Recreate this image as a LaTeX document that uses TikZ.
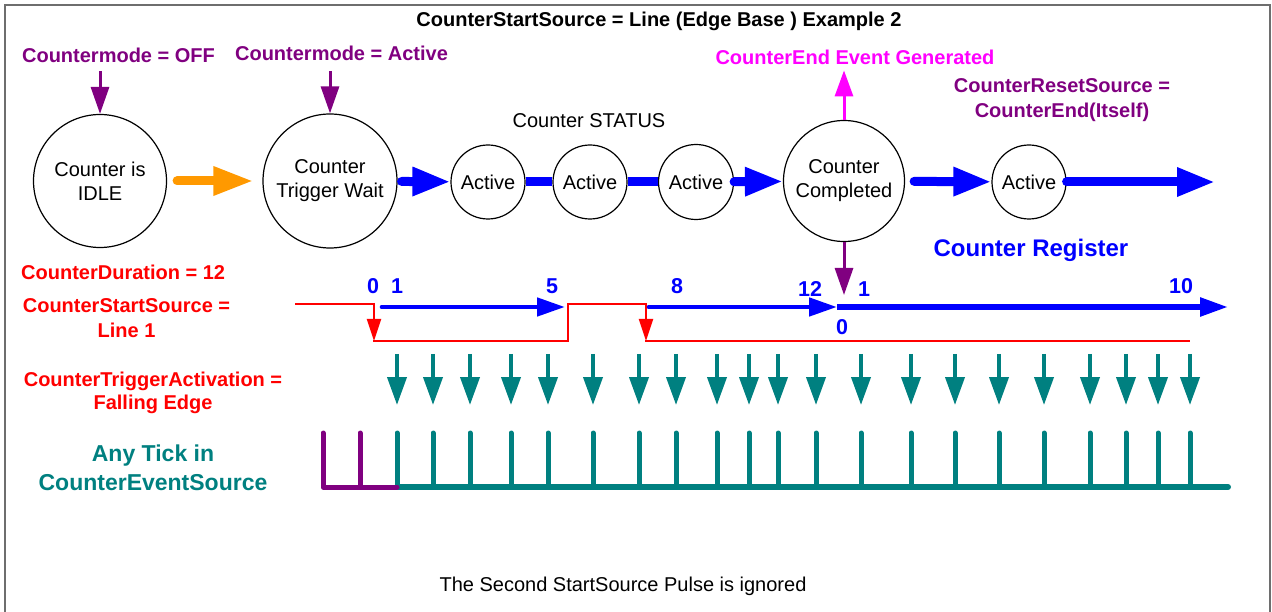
\documentclass[tikz,border=0pt]{standalone}
\usepackage{fontspec}
\setmainfont{Liberation Sans}
\usetikzlibrary{arrows.meta,calc}
\definecolor{cpurple}{RGB}{128,0,128}
\definecolor{corange}{RGB}{255,153,0}
\definecolor{cblue}{RGB}{0,0,255}
\definecolor{cmag}{RGB}{255,0,255}
\definecolor{cred}{RGB}{255,0,0}
\definecolor{cteal}{RGB}{0,128,128}
\definecolor{cframe}{RGB}{110,110,110}
\begin{document}
\begin{tikzpicture}[x=1pt,y=-1pt,
  bld/.style={font=\fontsize{20}{25}\selectfont\bfseries, inner sep=0pt},
  rgl/.style={font=\fontsize{20}{24}\selectfont, inner sep=0pt},
  state/.style={circle, draw=black, line width=1.2pt, inner sep=1pt, align=center,
                font=\fontsize{20}{24}\selectfont},
  flowarrow/.style={draw=cblue, line width=9pt, line cap=round, -{Triangle[length=38pt,width=27pt]}},
  flowline/.style={draw=cblue, line width=9pt},
  orangearrow/.style={draw=corange, line width=9pt, line cap=round, -{Triangle[length=40pt,width=27pt]}},
  purparrow/.style={draw=cpurple, line width=3pt, -{Triangle[length=27pt,width=18pt]}},
  magarrow/.style={draw=cmag, line width=3pt, -{Triangle[length=26pt,width=18pt]}},
  regarrow/.style={draw=cblue, line width=4.7pt, line cap=round, -{Triangle[length=28pt,width=18pt]}},
  redline/.style={draw=cred, line width=2pt},
  redarrow/.style={draw=cred, line width=2pt, -{Triangle[length=22pt,width=14pt]}},
  tealarrow/.style={draw=cteal, line width=4pt, -{Triangle[length=28pt,width=19pt]}},
  tickline/.style={draw=cteal, line width=5pt, line cap=round},
  num/.style={font=\fontsize{21.5}{25}\selectfont\bfseries, text=cblue, inner sep=0pt, anchor=base}
]
\useasboundingbox (0,0) rectangle (1272,612);
% frame
\draw[cframe, line width=1.5pt] (5,650) -- (5,5) -- (1270,5) -- (1270,650);

% title
\node[bld, anchor=base] (title) at (659,27) {CounterStartSource = Line (Edge Base ) Example 2};

% top labels
\node[bld, text=cpurple, anchor=base] (off) at (118.5,63) {Countermode = OFF};
\node[bld, text=cpurple, anchor=base] (act) at (341.5,61) {Countermode = Active};
\node[bld, text=cmag, anchor=base] (endev) at (855,65) {CounterEnd Event Generated};
\node[rgl, anchor=base] (status) at (589,128) {Counter STATUS};
\node[bld, text=cpurple, align=center] (reset) at (1062,100) {CounterResetSource =\\CounterEnd(Itself)};
\node[font=\fontsize{24}{28}\selectfont\bfseries, text=cblue, inner sep=0pt, anchor=base] (register) at (1031,256.5) {Counter Register};

% state circles
\node[state, minimum size=133pt] (idle) at (100,181) {Counter is\\IDLE};
\node[state, minimum size=134pt] (wait) at (330,181) {Counter\\Trigger Wait};
\node[state, minimum size=74pt] (a1) at (488,182) {Active};
\node[state, minimum size=74pt] (a2) at (590,182) {Active};
\node[state, minimum size=75pt] (a3) at (696,182) {Active};
\node[state, minimum size=121pt] (done) at (844,181) {Counter\\Completed};
\node[state, minimum size=74pt] (a4) at (1029,182) {Active};
\coordinate (outend) at (1215,182);

% flow arrows
\draw[orangearrow, shorten <=10pt, shorten >=9pt] (idle) -- (wait);
\draw[flowarrow, shorten <=4pt] (wait) -- (a1);
\draw[flowline] (a1) -- (a2);
\draw[flowline] (a2) -- (a3);
\draw[flowarrow] (a3) -- (done);
\draw[flowarrow, shorten <=9pt] (done) -- (a4);
\draw[flowarrow] (a4) -- (outend);

% purple / magenta arrows
\draw[purparrow, shorten <=8pt] (off.south -| idle.north) -- (idle.north);
\draw[purparrow, shorten <=10pt] (act.south -| wait.north) -- (wait.north);
\draw[magarrow, shorten >=5pt] (done.north) -- (done.north |- endev.south);
\coordinate (regtip) at (844,295);
\draw[purparrow] (done.south) -- (regtip);

% left labels
\node[bld, text=cred, anchor=base west] (dur) at (21,280) {CounterDuration = 12};
\node[bld, text=cred, align=center] (start) at (126.5,318) {CounterStartSource =\\Line 1};
\node[bld, text=cred, align=center, font=\fontsize{20}{23}\selectfont\bfseries] (trig) at (153,393) {CounterTriggerActivation =\\Falling Edge};
\node[font=\fontsize{23}{29}\selectfont\bfseries, text=cteal, inner sep=0pt, align=center] (tick) at (153,468) {Any Tick in\\CounterEventSource};

% red start-source waveform
\draw[redline] (295,304) -- (374,304);
\draw[redarrow] (374,303) -- (374,341);
\draw[redline] (373,341) -- (568,341) -- (568,304) -- (646,304);
\draw[redarrow] (646,303) -- (646,341);
\draw[redline] (645,341) -- (1190,341);

% counter register arrows
\coordinate (r0) at (382,307);
\coordinate (r5) at (565,307);
\coordinate (r8) at (649,307);
\coordinate (r12) at (837,307);
\coordinate (r10) at (1228,307);
\draw[regarrow] (r0) -- (r5);
\draw[regarrow] (r8) -- (r12);
\draw[regarrow, line width=5.5pt, line cap=butt] (r12) -- (r10);

% register numbers
\node[num] (n0) at (373,294) {0};
\node[num] (n1) at (397,294) {1};
\node[num] (n5) at (552,294) {5};
\node[num] (n8) at (677,294) {8};
\node[num] (n12) at (810,297) {12};
\node[num] (n1b) at (864,297) {1};
\node[num] (n10) at (1181,294) {10};
\node[num] (n0b) at (842,335) {0};

% trigger arrows
\foreach \x in {397,433,470,511,548,593,639,676,717,749,778,816,861,911,955,999,1044,1090,1126,1158,1190}
  \draw[tealarrow] (\x,354) -- (\x,405);

% event source ticks
\foreach \x in {397,433,470,511,548,593,639,676,717,749,778,816,861,911,955,999,1044,1090,1126,1158,1190}
  \draw[tickline] (\x,433) -- (\x,487);
\draw[draw=cteal, line width=6pt, line cap=round] (397,487) -- (1228,487);
\draw[draw=cpurple, line width=5pt, line cap=round, line join=round] (323,433) -- (323,487) -- (397,487);
\draw[draw=cpurple, line width=5pt, line cap=round] (360,433) -- (360,487);

% bottom note
\node[rgl, anchor=base] (note) at (623,591) {The Second StartSource Pulse is ignored};
\end{tikzpicture}
\end{document}
